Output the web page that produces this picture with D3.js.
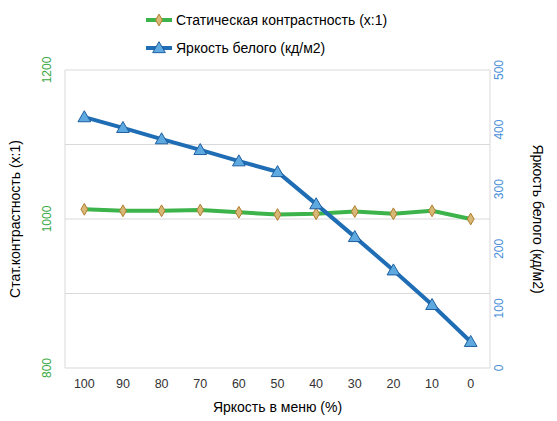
<!DOCTYPE html><html><head><meta charset="utf-8"><script src="https://cdn.jsdelivr.net/npm/d3@7"></script>
<style>body{margin:0;background:#fff}text{font-family:Arial,"Liberation Sans",sans-serif}</style></head><body><svg id="c" width="557" height="421"></svg><script>
const categories=["100","90","80","70","60","50","40","30","20","10","0"];
const contrast=[1013,1011,1011,1012,1009,1006,1007,1010,1007,1011,1000];
const brightness=[421,403,384,366,347,329,275,220,164,106,44];
const leftTicks=[800,1000,1200];
const rightTicks=[0,100,200,300,400,500];
const svg=d3.select("#c");
const L=65,R=490,T=70,B=368;
const x=d3.scalePoint().domain(categories).range([L,R]).padding(0.5);
const yL=d3.scaleLinear().domain([800,1200]).range([B,T]);
const yR=d3.scaleLinear().domain([0,500]).range([B,T]);
[800,900,1000,1100,1200].forEach(v=>svg.append("line").attr("x1",L).attr("x2",R).attr("y1",yL(v)).attr("y2",yL(v)).attr("stroke","#d9d9d9"));
svg.append("line").attr("x1",L).attr("x2",L).attr("y1",T).attr("y2",B).attr("stroke","#d9d9d9");
svg.append("line").attr("x1",R).attr("x2",R).attr("y1",T).attr("y2",B).attr("stroke","#d9d9d9");
leftTicks.forEach(v=>svg.append("text").attr("transform",`translate(${L-14},${yL(v)}) rotate(-90)`).attr("text-anchor","middle").attr("font-size",12).attr("fill","#3aa845").text(v));
rightTicks.forEach(v=>svg.append("text").attr("transform",`translate(${R+13},${yR(v)}) rotate(-90)`).attr("text-anchor","middle").attr("font-size",12).attr("fill","#4a90d9").text(v));
categories.forEach(c=>svg.append("text").attr("x",x(c)).attr("y",B+20).attr("text-anchor","middle").attr("font-size",12.5).attr("fill","#333").text(c));
svg.append("text").attr("x",(L+R)/2).attr("y",412).attr("text-anchor","middle").attr("font-size",14).text("Яркость в меню (%)");
svg.append("text").attr("transform",`translate(20,${(T+B)/2}) rotate(-90)`).attr("text-anchor","middle").attr("font-size",14).text("Стат.контрастность  (x:1)");
svg.append("text").attr("transform",`translate(533,${(T+B)/2}) rotate(90)`).attr("text-anchor","middle").attr("font-size",14).text("Яркость белого (кд/м2)");
const lg=d3.line().x((d,i)=>x(categories[i]));
svg.append("path").datum(contrast).attr("d",lg.y(d=>yL(d))).attr("fill","none").attr("stroke","#3cb44b").attr("stroke-width",4);
svg.append("path").datum(brightness).attr("d",d3.line().x((d,i)=>x(categories[i])).y(d=>yR(d))).attr("fill","none").attr("stroke","#1f6db5").attr("stroke-width",4);
const dia=d3.symbol().type(d3.symbolDiamond).size(40),tri=d3.symbol().type(d3.symbolTriangle).size(70);
contrast.forEach((d,i)=>svg.append("path").attr("d",dia()).attr("transform",`translate(${x(categories[i])},${yL(d)})`).attr("fill","#d8b877").attr("stroke","#b07c2c"));
brightness.forEach((d,i)=>svg.append("path").attr("d",tri()).attr("transform",`translate(${x(categories[i])},${yR(d)+1})`).attr("fill","#5da9e0").attr("stroke","#1f5fa0"));
svg.append("line").attr("x1",146).attr("x2",172).attr("y1",20).attr("y2",20).attr("stroke","#3cb44b").attr("stroke-width",4);
svg.append("path").attr("d",dia()).attr("transform","translate(159,20)").attr("fill","#d8b877").attr("stroke","#b07c2c");
svg.append("text").attr("x",176).attr("y",25).attr("font-size",14).text("Статическая контрастность (x:1)");
svg.append("line").attr("x1",146).attr("x2",172).attr("y1",48).attr("y2",48).attr("stroke","#1f6db5").attr("stroke-width",4);
svg.append("path").attr("d",tri()).attr("transform","translate(159,49)").attr("fill","#5da9e0").attr("stroke","#1f5fa0");
svg.append("text").attr("x",176).attr("y",53).attr("font-size",14).text("Яркость белого (кд/м2)");
</script></body></html>
